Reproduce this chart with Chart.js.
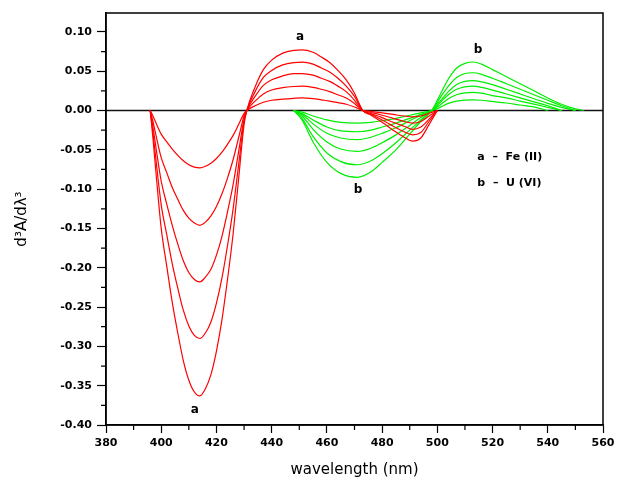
<!DOCTYPE html>
<html><head><meta charset="utf-8">
<script src="https://cdn.jsdelivr.net/npm/chart.js@4.4.1/dist/chart.umd.min.js"></script>
<style>html,body{margin:0;padding:0;background:#fff;}</style>
</head><body>
<canvas id="c" width="622" height="480" style="width:622px;height:480px;display:block"></canvas>
<script>
// ---- data (wavelength in nm, third-derivative amplitude) ----
const redX = [396,397,398,400,402,404,406,408,410,412,414,416,418,420,422,424,426,428,430,431,434,437,440,444,448,451,455,458,461,464,467,470,473,476,480,484,488,491,494,497,500];
const redA1 = [0,-0.007,-0.015,-0.03,-0.040,-0.049,-0.057,-0.064,-0.069,-0.072,-0.073,-0.071,-0.067,-0.061,-0.053,-0.043,-0.032,-0.018,-0.004,0,0.006,0.0105,0.013,0.0145,0.0155,0.016,0.015,0.0135,0.012,0.010,0.008,0.0045,0,-0.001,-0.003,-0.005,-0.007,-0.008,-0.007,-0.0035,0];
const redA2 = [0,-0.014,-0.030,-0.06,-0.079,-0.098,-0.113,-0.127,-0.137,-0.143,-0.146,-0.142,-0.134,-0.122,-0.106,-0.086,-0.063,-0.035,-0.007,0,0.012,0.021,0.026,0.029,0.0305,0.031,0.0295,0.027,0.024,0.020,0.016,0.009,0,-0.0025,-0.006,-0.010,-0.014,-0.016,-0.014,-0.007,0];
const redA3 = [0,-0.021,-0.045,-0.09,-0.119,-0.146,-0.170,-0.191,-0.206,-0.215,-0.218,-0.212,-0.202,-0.184,-0.160,-0.129,-0.095,-0.053,-0.011,0,0.018,0.032,0.039,0.044,0.047,0.047,0.045,0.041,0.037,0.031,0.024,0.013,0,-0.004,-0.009,-0.015,-0.020,-0.024,-0.021,-0.011,0];
const redA4 = [0,-0.028,-0.060,-0.12,-0.158,-0.195,-0.226,-0.254,-0.274,-0.286,-0.290,-0.283,-0.269,-0.245,-0.213,-0.172,-0.126,-0.070,-0.014,0,0.024,0.042,0.051,0.058,0.061,0.0615,0.059,0.054,0.049,0.041,0.031,0.018,0,-0.005,-0.012,-0.020,-0.027,-0.031,-0.028,-0.014,0];
const redA5 = [0,-0.035,-0.075,-0.150,-0.198,-0.244,-0.283,-0.318,-0.343,-0.358,-0.363,-0.354,-0.336,-0.306,-0.266,-0.215,-0.158,-0.088,-0.018,0,0.030,0.052,0.064,0.073,0.0765,0.077,0.074,0.068,0.061,0.051,0.039,0.022,0,-0.006,-0.015,-0.025,-0.034,-0.039,-0.035,-0.018,0];

const greenX = [448,451,455,460,465,471,476,480,485,490,494,498,501,504,507,510,513,516,520,525,530,535,540,545,550,553];
const greenB1 = [0,-0.002,-0.007,-0.012,-0.015,-0.016,-0.015,-0.013,-0.010,-0.006,-0.003,0,0.004,0.009,0.012,0.0133,0.0136,0.013,0.0115,0.0095,0.007,0.0045,0,null,null,null];
const greenB2 = [0,-0.004,-0.012,-0.021,-0.026,-0.027,-0.025,-0.021,-0.016,-0.010,-0.005,0,0.007,0.015,0.020,0.0225,0.023,0.022,0.019,0.016,0.012,0.008,0.004,0,null,null];
const greenB3 = [0,-0.005,-0.017,-0.029,-0.035,-0.037,-0.034,-0.029,-0.022,-0.013,-0.006,0,0.010,0.020,0.027,0.030,0.031,0.0295,0.026,0.021,0.016,0.011,0.006,0,null,null];
const greenB4 = [0,-0.007,-0.024,-0.040,-0.049,-0.052,-0.048,-0.041,-0.031,-0.019,-0.009,0,0.012,0.024,0.033,0.037,0.038,0.0365,0.033,0.027,0.021,0.015,0.009,0.004,0,null];
const greenB5 = [0,-0.010,-0.033,-0.054,-0.065,-0.069,-0.064,-0.055,-0.041,-0.025,-0.012,0,0.016,0.031,0.042,0.047,0.048,0.046,0.041,0.034,0.027,0.020,0.013,0.006,0,null];
const greenB6 = [0,-0.012,-0.040,-0.066,-0.080,-0.085,-0.078,-0.066,-0.050,-0.030,-0.014,0,0.020,0.040,0.054,0.060,0.0617,0.059,0.052,0.043,0.034,0.025,0.016,0.008,0.002,0];

const xRange = [380, 560];
const yRange = [-0.40, 0.124];
const xStep = 20;
const yStep = 0.05;

const noteText = ['a', 'a', 'b', 'b', 'a  \u2013  Fe (II)', 'b  \u2013  U (VI)'];
const noteX = [450.3, 412.2, 514.7, 471.3, 514.5, 514.5];
const noteY = [0.094, -0.381, 0.077, -0.101, -0.059, -0.092];
const noteAlign = ['center', 'center', 'center', 'center', 'left', 'left'];

const xTitle = 'wavelength (nm)';
const yTitle = 'd\u00b3A/d\u03bb\u00b3';

// ---- build ----
const pts = (xs, ys) => xs.map((x, i) => ({x, y: ys[i]})).filter(p => p.y !== null);
const lineDs = (xs, ys, col) => ({
  data: pts(xs, ys), borderColor: col, borderWidth: 1.2, pointRadius: 0,
  cubicInterpolationMode: 'monotone', fill: false, order: 0
});
const datasets = [
  {data: [{x: xRange[0], y: 0}, {x: xRange[1], y: 0}], borderColor: '#111', borderWidth: 1.6, pointRadius: 0, order: 5},
  ...[redA1, redA2, redA3, redA4, redA5].map(a => lineDs(redX, a, '#ff0000')),
  ...[greenB1, greenB2, greenB3, greenB4, greenB5, greenB6].map(b => lineDs(greenX, b, '#00ee00'))
];

const tickFont = {family: 'DejaVu Sans', size: 11, weight: 'bold'};

const deco = {
  id: 'deco',
  afterDraw(chart) {
    const {ctx, chartArea: a, scales: {x, y}} = chart;
    ctx.save();
    ctx.strokeStyle = '#000';
    ctx.lineWidth = 1.5;
    ctx.strokeRect(a.left, a.top, a.right - a.left, a.bottom - a.top);
    ctx.lineWidth = 1.2;
    ctx.beginPath();
    for (let i = 0; i < y.ticks.length - 1; i++) {
      const p = y.getPixelForValue((y.ticks[i].value + y.ticks[i + 1].value) / 2);
      ctx.moveTo(a.left - 5, p); ctx.lineTo(a.left, p);
    }
    for (let i = 0; i < x.ticks.length - 1; i++) {
      const p = x.getPixelForValue((x.ticks[i].value + x.ticks[i + 1].value) / 2);
      ctx.moveTo(p, a.bottom); ctx.lineTo(p, a.bottom + 5);
    }
    ctx.stroke();
    ctx.fillStyle = '#000';
    ctx.textBaseline = 'middle';
    noteText.forEach((t, i) => {
      ctx.font = (i < 4 ? 'bold 12px' : 'bold 11px') + ' "DejaVu Sans"';
      ctx.textAlign = noteAlign[i];
      ctx.fillText(t, x.getPixelForValue(noteX[i]), y.getPixelForValue(noteY[i]));
    });
    ctx.restore();
  }
};

new Chart(document.getElementById('c'), {
  type: 'line',
  data: {datasets},
  options: {
    responsive: false, animation: false, devicePixelRatio: 1,
    layout: {padding: {top: 13, right: 19, left: 0, bottom: 0}},
    plugins: {legend: {display: false}, tooltip: {enabled: false}},
    scales: {
      x: {
        type: 'linear', min: xRange[0], max: xRange[1],
        ticks: {stepSize: xStep, font: tickFont, color: '#000', padding: 4, maxRotation: 0, autoSkip: false},
        grid: {display: true, drawOnChartArea: false, color: '#000', tickLength: 8, tickWidth: 1.2},
        border: {display: true, color: '#000', width: 1.5},
        title: {display: true, text: xTitle, color: '#000', font: {family: 'DejaVu Sans', size: 15}, padding: {top: 0, bottom: 1}},
        afterFit(s) { s.height = 55; }
      },
      y: {
        type: 'linear', min: yRange[0], max: yRange[1],
        ticks: {stepSize: yStep, font: tickFont, color: '#000', padding: 5,
          callback: v => Math.abs(v) < 1e-9 ? '0.00' : v.toFixed(2)},
        afterBuildTicks(s) { s.ticks = s.ticks.filter(t => Math.abs(t.value / yStep - Math.round(t.value / yStep)) < 1e-6); },
        grid: {display: true, drawOnChartArea: false, color: '#000', tickLength: 9, tickWidth: 1.2},
        border: {display: true, color: '#000', width: 1.5},
        title: {display: true, text: yTitle, color: '#000', font: {family: 'DejaVu Sans', size: 15}, padding: {top: 13, bottom: 0}},
        afterFit(s) { s.width = 106; }
      }
    }
  },
  plugins: [deco]
});
</script>
</body></html>
